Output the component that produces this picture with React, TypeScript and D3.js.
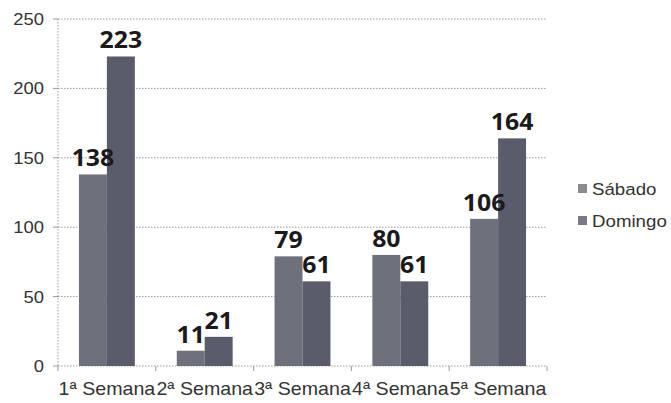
import React from "react";
import * as d3 from "d3";

const categories = ["1ª Semana", "2ª Semana", "3ª Semana", "4ª Semana", "5ª Semana"];
const seriesNames = ["Sábado", "Domingo"];
const sabado = [138, 11, 79, 80, 106];
const domingo = [223, 21, 61, 61, 164];
const yTicks = [0, 50, 100, 150, 200, 250];

const W = 671;
const H = 403;
const left = 58;
const right = 547;
const top = 19;
const bottom = 366;
const colors = ["#6e707b", "#5a5c6b"];
const legendColors = ["#8a8a90", "#7a7a86"];
const SX = 1.15;

export default function App() {
  const x = d3.scaleBand<string>().domain(categories).range([left, right]).padding(0);
  const xi = d3
    .scaleBand<string>()
    .domain(seriesNames)
    .range([0, x.bandwidth()])
    .paddingInner(0)
    .paddingOuter(0.75);
  const y = d3.scaleLinear().domain([0, 250]).range([bottom, top]);
  const series = [sabado, domingo];
  const boundaries = [...categories.map((c) => x(c) as number), right];

  return (
    <svg width={W} height={H} style={{ position: "absolute", left: 0, top: 0, background: "#fff" }}>
      <rect width={W} height={H} fill="#fff" />
      {yTicks.map((t) => (
        <g key={t}>
          {t > 0 && (
            <line x1={left} x2={right} y1={y(t)} y2={y(t)} stroke="#9a9a9a" strokeWidth={1} strokeDasharray="1.5,1.5" />
          )}
          <line x1={left - 5} x2={left} y1={y(t)} y2={y(t)} stroke="#9a9a9a" strokeWidth={1} />
          <text
            transform={`translate(${left - 14},${y(t) + 6}) scale(${SX},1)`}
            textAnchor="end"
            fontFamily="Liberation Sans, Arial, sans-serif"
            fontSize={16}
            fill="#333"
          >
            {t}
          </text>
        </g>
      ))}
      <line x1={left} x2={left} y1={top} y2={bottom} stroke="#9a9a9a" strokeWidth={1} strokeDasharray="1.5,1.5" />
      <line x1={left} x2={right} y1={bottom} y2={bottom} stroke="#9a9a9a" strokeWidth={1} strokeDasharray="1.5,1.5" />
      {boundaries.map((b, i) => (
        <line key={i} x1={b} x2={b} y1={bottom} y2={bottom + 5} stroke="#9a9a9a" strokeWidth={1} />
      ))}
      {categories.map((c, ci) => (
        <g key={c}>
          {seriesNames.map((s, si) => {
            const v = series[si][ci];
            const bx = (x(c) as number) + (xi(s) as number);
            return (
              <rect key={s} x={bx} y={y(v)} width={xi.bandwidth()} height={y(0) - y(v)} fill={colors[si]} />
            );
          })}
          {seriesNames.map((s, si) => {
            const v = series[si][ci];
            const bx = (x(c) as number) + (xi(s) as number) + xi.bandwidth() / 2;
            return (
              <text
                key={s + "l"}
                transform={`translate(${bx},${y(v) - 8}) scale(1.08,1)`}
                textAnchor="middle"
                fontFamily="Open Sans, sans-serif"
                fontWeight="bold"
                fontSize={23}
                fill="#1a1a1a"
              >
                {v}
              </text>
            );
          })}
          <text
            transform={`translate(${(x(c) as number) + x.bandwidth() / 2},${bottom + 29}) scale(1.09,1)`}
            textAnchor="middle"
            fontFamily="Liberation Sans, Arial, sans-serif"
            fontSize={18}
            fill="#333"
          >
            {c}
          </text>
        </g>
      ))}
      {seriesNames.map((s, si) => (
        <g key={s}>
          <rect x={578} y={184 + si * 32} width={9} height={9} fill={legendColors[si]} />
          <text
            transform={`translate(592,${195 + si * 32}) scale(1.1,1)`}
            fontFamily="Liberation Sans, Arial, sans-serif"
            fontSize={17}
            fill="#333"
          >
            {s}
          </text>
        </g>
      ))}
    </svg>
  );
}
